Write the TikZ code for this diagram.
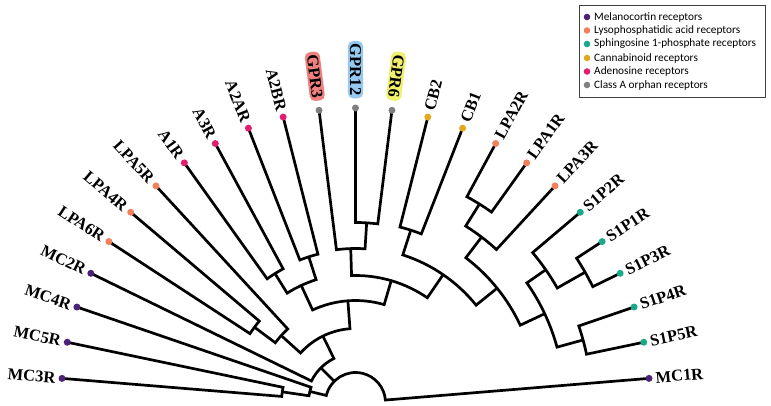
\documentclass[tikz,border=0pt]{standalone}
\usepackage{fontspec}
\setmainfont{Liberation Serif}
\newfontfamily\legfont{Carlito}
\definecolor{mc}{RGB}{74,35,120}
\definecolor{lpa}{RGB}{242,128,92}
\definecolor{sip}{RGB}{26,170,135}
\definecolor{cb}{RGB}{228,168,30}
\definecolor{ad}{RGB}{226,30,110}
\definecolor{orph}{RGB}{128,128,128}
\definecolor{hlred}{RGB}{238,128,128}
\definecolor{hlblue}{RGB}{150,200,240}
\definecolor{hlyel}{RGB}{240,240,110}
\newcommand{\clade}[6]{%
  \coordinate (#6) at ({(#2+#4)/2}:#5pt);
  \draw[tree] (#1) -- (#2:#5pt) arc[start angle=#2, end angle=#4, radius=#5pt] -- (#3);}
\newcommand{\tipL}[3]{%
  \coordinate (#1) at (#2:294.5pt);
  \node[lab, anchor=east, rotate={#2-180}] (#1-l) at (#2:301pt) {#3};}
\newcommand{\tipR}[3]{%
  \coordinate (#1) at (#2:294.5pt);
  \node[lab, anchor=west, rotate={#2}] (#1-l) at (#2:301pt) {#3};}
\newcommand{\tipH}[4]{%
  \coordinate (#1) at (#2:294.5pt);
  \node[lab, anchor=east, rotate={#2-180}, fill=#4, rounded corners=5pt, inner xsep=3pt, inner ysep=2pt] (#1-l) at (#2:304pt) {#3};}
\begin{document}
\begin{tikzpicture}[x=1pt,y=1pt,
  tree/.style={line width=2.7pt, line join=miter, line cap=butt, black},
  lab/.style={font=\bfseries\fontsize{16.5}{18}\selectfont, inner sep=0pt},
  leg/.style={font=\legfont\fontsize{11.3}{12}\selectfont, inner sep=0pt, anchor=west}]
\useasboundingbox (0,0) rectangle (771,405);
\begin{scope}[shift={(355.5,2.5)}]
% tips and labels
\tipL{MC3R}{175.30}{MC3R}
\tipL{MC5R}{168.19}{MC5R}
\tipL{MC4R}{161.08}{MC4R}
\tipL{MC2R}{153.98}{MC2R}
\tipL{LPA6R}{146.87}{LPA6R}
\tipL{LPA4R}{139.76}{LPA4R}
\tipL{LPA5R}{132.65}{LPA5R}
\tipL{A1R}{125.54}{A1R}
\tipL{A3R}{118.43}{A3R}
\tipL{A2AR}{111.33}{A2AR}
\tipL{A2BR}{104.22}{A2BR}
\tipH{GPR3}{97.11}{GPR3}{hlred}
\tipH{GPR12}{90.00}{GPR12}{hlblue}
\tipH{GPR6}{82.89}{GPR6}{hlyel}
\tipR{CB2}{75.78}{CB2}
\tipR{CB1}{68.67}{CB1}
\tipR{LPA2R}{61.57}{LPA2R}
\tipR{LPA1R}{54.46}{LPA1R}
\tipR{LPA3R}{47.35}{LPA3R}
\tipR{S1P2R}{40.24}{S1P2R}
\tipR{S1P1R}{33.13}{S1P1R}
\tipR{S1P3R}{26.02}{S1P3R}
\tipR{S1P4R}{18.92}{S1P4R}
\tipR{S1P5R}{11.81}{S1P5R}
\tipR{MC1R}{4.70}{MC1R}
% clades
\clade{MC3R}{175.30}{MC5R}{168.19}{74}{MC35}
\clade{MC35}{171.745}{MC4R}{161.08}{47}{MCc}
\clade{LPA6R}{146.87}{LPA4R}{139.76}{126}{LPA64}
\clade{LPA64}{143.315}{LPA5R}{132.65}{100}{X}
\clade{A1R}{125.54}{A3R}{118.43}{152}{A13}
\clade{A2AR}{111.33}{A2BR}{104.22}{153}{A2AB}
\clade{A13}{121.985}{A2AB}{107.775}{129}{Aden}
\clade{GPR12}{90.00}{GPR6}{82.89}{180}{G126}
\clade{GPR3}{97.11}{G126}{86.445}{154}{GPRc}
\clade{CB2}{75.78}{CB1}{68.67}{181}{CBc}
\clade{LPA2R}{61.57}{LPA1R}{54.46}{234}{LPA21}
\clade{LPA21}{58.015}{LPA3R}{47.35}{208}{LPAc}
\clade{S1P1R}{33.13}{S1P3R}{26.02}{264}{S1P13}
\clade{S1P2R}{40.24}{S1P13}{29.575}{232}{S1P213}
\clade{S1P4R}{18.92}{S1P5R}{11.81}{236}{S1P45}
\clade{S1P213}{34.91}{S1P45}{15.365}{209}{S1Pc}
\clade{LPAc}{52.68}{S1Pc}{25.14}{182}{V}
\clade{CBc}{72.225}{V}{38.91}{155}{W}
\clade{GPRc}{91.78}{W}{55.57}{127}{Z}
\clade{Aden}{114.88}{Z}{73.675}{102}{Y}
\clade{X}{137.98}{Y}{94.28}{74}{Na}
\clade{MC2R}{153.98}{Na}{116.13}{49}{K}
% root (trifurcation)
\coordinate (rootK) at (135.055:30pt);
\draw[tree] (MCc) -- (166.41:30pt) arc[start angle=166.41, end angle=4.70, radius=30pt] -- (MC1R);
\draw[tree] (rootK) -- (K);
% tip dots
\foreach \t in {MC3R,MC5R,MC4R,MC2R,MC1R} \fill[mc] (\t) circle (3.5pt);
\foreach \t in {LPA6R,LPA4R,LPA5R,LPA2R,LPA1R,LPA3R} \fill[lpa] (\t) circle (3.5pt);
\foreach \t in {A1R,A3R,A2AR,A2BR} \fill[ad] (\t) circle (3.5pt);
\foreach \t in {GPR3,GPR12,GPR6} \fill[orph] (\t) circle (3.5pt);
\foreach \t in {CB2,CB1} \fill[cb] (\t) circle (3.5pt);
\foreach \t in {S1P2R,S1P1R,S1P3R,S1P4R,S1P5R} \fill[sip] (\t) circle (3.5pt);
\end{scope}
% legend
\draw[line width=0.9pt, black!75] (579,308) rectangle (765,400);
\fill[mc] (587,388) circle (3.3pt);   \node[leg] (l1) at (594,388) {Melanocortin receptors};
\fill[lpa] (587,374.5) circle (3.3pt); \node[leg] (l2) at (594,374.5) {Lysophosphatidic acid receptors};
\fill[sip] (587,361) circle (3.3pt);  \node[leg] (l3) at (594,361) {Sphingosine 1-phosphate receptors};
\fill[cb] (587,347) circle (3.3pt);   \node[leg] (l4) at (594,347) {Cannabinoid receptors};
\fill[ad] (587,333.5) circle (3.3pt); \node[leg] (l5) at (594,333.5) {Adenosine receptors};
\fill[orph] (587,320) circle (3.3pt); \node[leg] (l6) at (594,320) {Class A orphan receptors};
\end{tikzpicture}
\end{document}
